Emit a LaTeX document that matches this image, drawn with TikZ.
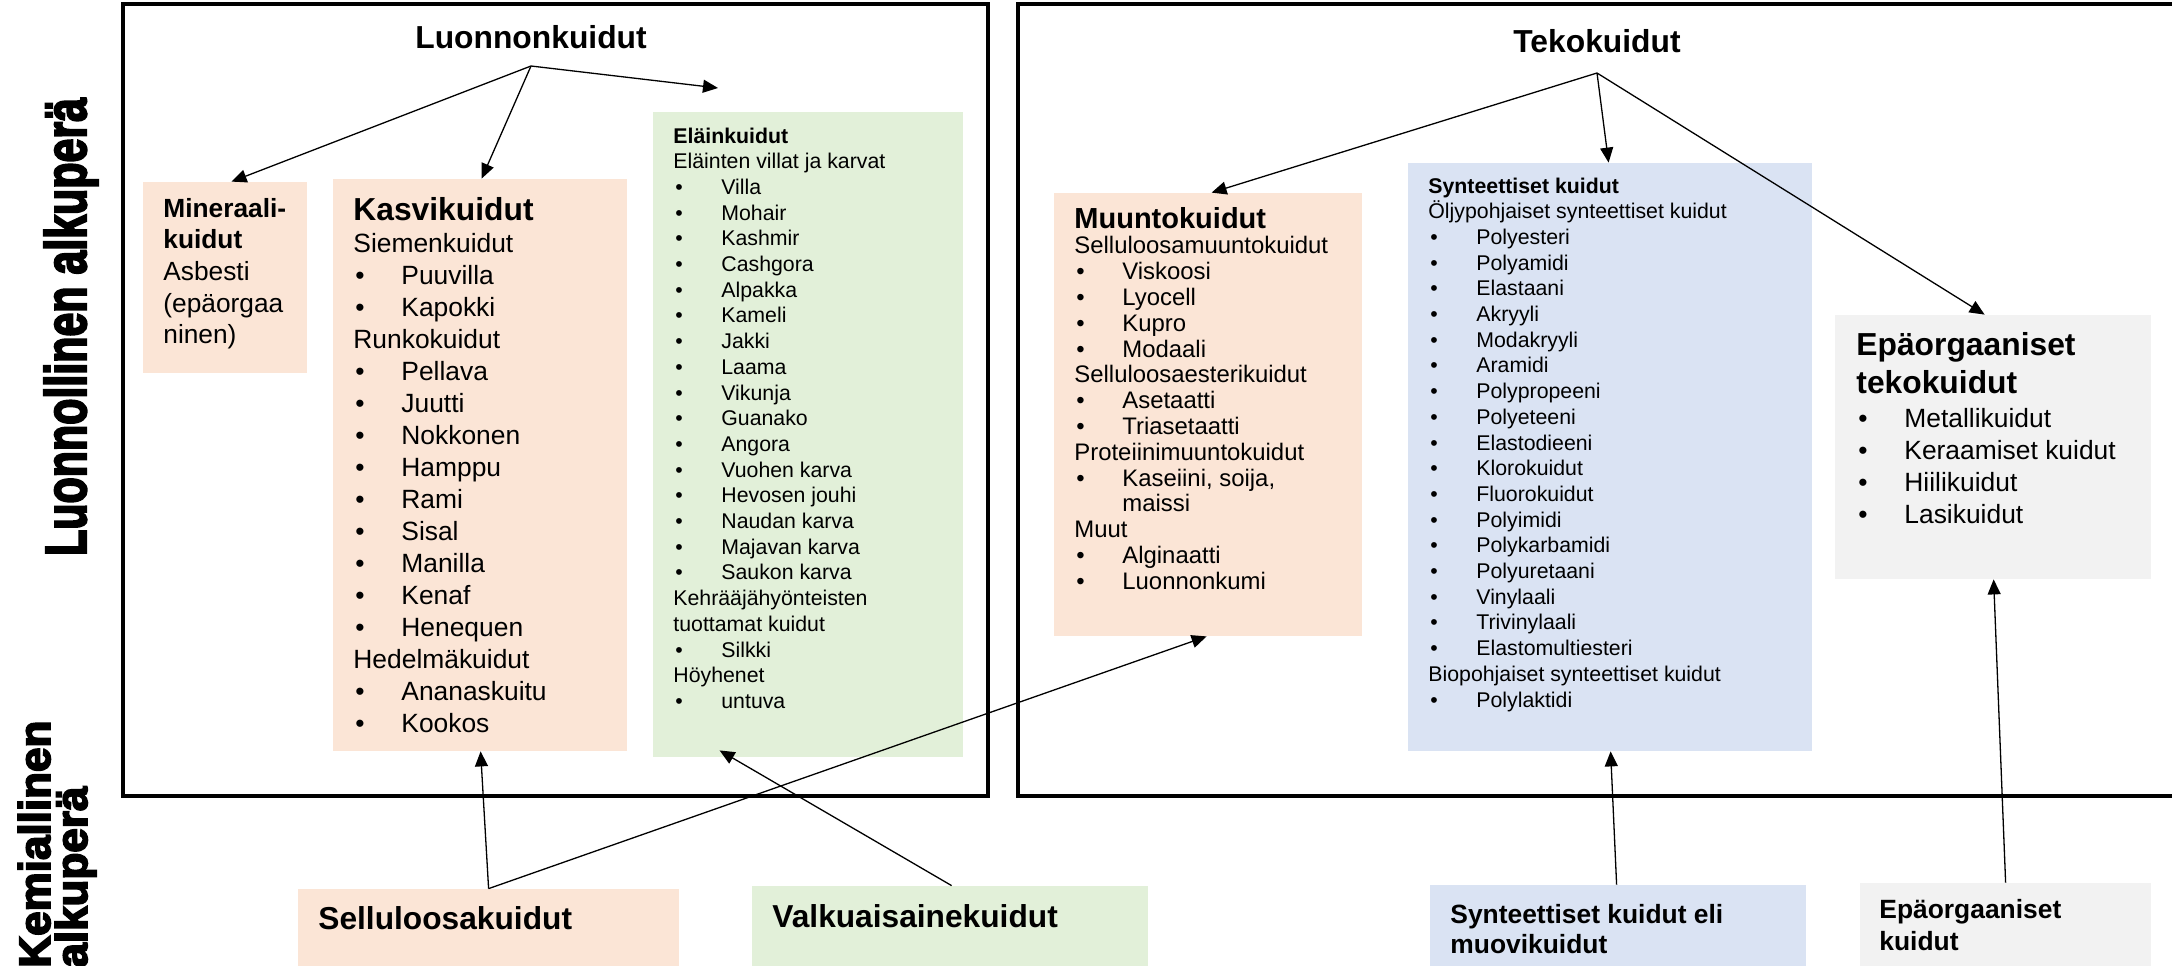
\documentclass[tikz,border=0pt]{standalone}
\usepackage{fontspec}
\usepackage{graphicx}
\setmainfont{Liberation Sans}
\newfontfamily\heavyfam{Liberation Sans}[BoldFeatures={FakeBold=4}]
\usetikzlibrary{arrows.meta,fit,calc}
\definecolor{peach}{HTML}{FBE5D6}
\definecolor{leaf}{HTML}{E2F0D9}
\definecolor{sky}{HTML}{DAE3F3}
\definecolor{ash}{HTML}{F2F2F2}
\newcommand\lne[1]{\hbox{#1}}
\newcommand\itm[1]{\hbox{\makebox[24pt][l]{\hspace{1pt}\textbullet}#1}}
\newcommand\vlist[2]{\vtop{\baselineskip=#1\lineskiplimit=-100pt\lineskip=0pt #2}}
\begin{document}
\begin{tikzpicture}[x=0.5pt,y=-0.5pt,
  outer/.style={draw, line width=1.6pt, inner sep=0pt},
  colbox/.style={inner sep=0pt, fill=#1},
  txt/.style={anchor=base west, inner sep=0pt},
  head/.style={anchor=base, inner sep=0pt, font=\bfseries\fontsize{15.9pt}{18pt}\selectfont},
  arr/.style={-{Triangle[length=7.5pt,width=6.5pt]}, line width=0.65pt}]
\useasboundingbox (0,0) rectangle (2172,965);
\clip (0,0) rectangle (2172,965);

% outer frames
\node[outer, fit={(123,4) (988,796)}] (natbox) {};
\node[outer, fit={(1018,4) (2220,796)}] (manbox) {};

% vertical labels
\node[rotate=90, anchor=base, inner sep=0pt, font=\heavyfam\bfseries\fontsize{29pt}{30pt}\selectfont] (lbl1) at (86,327) {\scalebox{0.74}[1]{Luonnollinen alkuperä}};
\node[rotate=90, anchor=base west, inner sep=0pt, font=\heavyfam\bfseries\fontsize{22pt}{18.5pt}\selectfont] (lbl2) at (50,968) {\vlist{18.5pt}{\lne{Kemiallinen}\lne{alkuperä}}};

% headings
\node[head] (luonn) at (531,48) {Luonnonkuidut};
\node[head] (teko) at (1597,52) {Tekokuidut};
\coordinate (lsrc) at (531,66);
\coordinate (tsrc) at (1597,73);
\coordinate (eltip) at (718,88);

% coloured boxes
\node[colbox=peach, fit={(143,182) (307,373)}] (mineral) {};
\node[colbox=peach, fit={(333,179) (627,751)}] (kasvi) {};
\node[colbox=leaf, fit={(653,112) (963,757)}] (elain) {};
\node[colbox=peach, fit={(1054,193) (1362,636)}] (muunto) {};
\node[colbox=sky, fit={(1408,163) (1812,751)}] (synt) {};
\node[colbox=ash, fit={(1835,315) (2151,579)}] (epa) {};
\node[colbox=peach, fit={(298,889) (679,975)}] (sellu) {};
\node[colbox=leaf, fit={(752,886) (1148,975)}] (valk) {};
\node[colbox=sky, fit={(1430,885) (1806,975)}] (syntb) {};
\node[colbox=ash, fit={(1860,883) (2151,975)}] (epab) {};

% texts
\node[txt, font=\fontsize{13.15pt}{15.85pt}\selectfont] (mintxt) at (163,217)
  {\vlist{15.85pt}{\lne{\bfseries Mineraali-}\lne{\bfseries kuidut}\lne{Asbesti}\lne{(epäorgaa}\lne{ninen)}}};

\node[txt, font=\fontsize{13.2pt}{16pt}\selectfont] (kasvitxt) at (353,220)
  {\vlist{16pt}{\lne{\fontsize{15.9pt}{16pt}\selectfont\bfseries Kasvikuidut}
   \lne{Siemenkuidut}\itm{Puuvilla}\itm{Kapokki}
   \lne{Runkokuidut}\itm{Pellava}\itm{Juutti}\itm{Nokkonen}\itm{Hamppu}\itm{Rami}\itm{Sisal}\itm{Manilla}\itm{Kenaf}\itm{Henequen}
   \lne{Hedelmäkuidut}\itm{Ananaskuitu}\itm{Kookos}}};

\node[txt, font=\fontsize{10.65pt}{12.85pt}\selectfont] (elaintxt) at (673,143)
  {\vlist{12.85pt}{\lne{\bfseries Eläinkuidut}\lne{Eläinten villat ja karvat}
   \itm{Villa}\itm{Mohair}\itm{Kashmir}\itm{Cashgora}\itm{Alpakka}\itm{Kameli}\itm{Jakki}\itm{Laama}\itm{Vikunja}\itm{Guanako}\itm{Angora}\itm{Vuohen karva}\itm{Hevosen jouhi}\itm{Naudan karva}\itm{Majavan karva}\itm{Saukon karva}
   \lne{Kehrääjähyönteisten}\lne{tuottamat kuidut}\itm{Silkki}
   \lne{Höyhenet}\itm{untuva}}};

\node[txt, font=\fontsize{11.95pt}{12.9pt}\selectfont] (muuntotxt) at (1074,228)
  {\vlist{12.9pt}{\lne{\fontsize{14.5pt}{12.9pt}\selectfont\bfseries Muuntokuidut}
   \lne{Selluloosamuuntokuidut}\itm{Viskoosi}\itm{Lyocell}\itm{Kupro}\itm{Modaali}
   \lne{Selluloosaesterikuidut}\itm{Asetaatti}\itm{Triasetaatti}
   \lne{Proteiinimuuntokuidut}\itm{Kaseiini, soija,}\lne{\hspace{24pt}maissi}
   \lne{Muut}\itm{Alginaatti}\itm{Luonnonkumi}}};

\node[txt, font=\fontsize{10.65pt}{12.85pt}\selectfont] (synttxt) at (1428,193)
  {\vlist{12.85pt}{\lne{\bfseries Synteettiset kuidut}\lne{Öljypohjaiset synteettiset kuidut}
   \itm{Polyesteri}\itm{Polyamidi}\itm{Elastaani}\itm{Akryyli}\itm{Modakryyli}\itm{Aramidi}\itm{Polypropeeni}\itm{Polyeteeni}\itm{Elastodieeni}\itm{Klorokuidut}\itm{Fluorokuidut}\itm{Polyimidi}\itm{Polykarbamidi}\itm{Polyuretaani}\itm{Vinylaali}\itm{Trivinylaali}\itm{Elastomultiesteri}
   \lne{Biopohjaiset synteettiset kuidut}\itm{Polylaktidi}}};

\node[txt, font=\fontsize{13.2pt}{16pt}\selectfont] (epatxt) at (1856,355)
  {\vlist{19pt}{\lne{\fontsize{15.9pt}{19pt}\selectfont\bfseries Epäorgaaniset}\lne{\fontsize{15.9pt}{19pt}\selectfont\bfseries tekokuidut}
   \baselineskip=17pt\itm{Metallikuidut}\baselineskip=16pt\itm{Keraamiset kuidut}\itm{Hiilikuidut}\itm{Lasikuidut}}};

\node[txt, font=\bfseries\fontsize{15.85pt}{18pt}\selectfont] (sellutxt) at (318,929) {Selluloosakuidut};
\node[txt, font=\bfseries\fontsize{15.85pt}{18pt}\selectfont] (valktxt) at (772,927) {Valkuaisainekuidut};
\node[txt, font=\bfseries\fontsize{13.2pt}{15pt}\selectfont] (syntbtxt) at (1450,923)
  {\vlist{15pt}{\lne{Synteettiset kuidut eli}\lne{muovikuidut}}};
\node[txt, font=\bfseries\fontsize{13.2pt}{16pt}\selectfont] (epabtxt) at (1879,918)
  {\vlist{16pt}{\lne{Epäorgaaniset}\lne{kuidut}}};

% connectors
\draw[arr] (lsrc) -- ($(mineral.north west)+(89,0)$);
\draw[arr] (lsrc) -- ($(kasvi.north west)+(149,0)$);
\draw[arr] (lsrc) -- (eltip);
\draw[arr] (tsrc) -- ($(muunto.north west)+(158,0)$);
\draw[arr] (tsrc) -- ($(synt.north west)+(201,0)$);
\draw[arr] (tsrc) -- ($(epa.north west)+(150,0)$);
\draw[arr] ($(sellu.north west)+(191,0)$) -- ($(kasvi.south west)+(148,0)$);
\draw[arr] ($(sellu.north west)+(191,0)$) -- ($(muunto.south west)+(153,0)$);
\draw[arr] ($(valk.north west)+(200,0)$) -- ($(elain.south west)+(67,-7)$);
\draw[arr] ($(syntb.north west)+(187,0)$) -- ($(synt.south west)+(203,0)$);
\draw[arr] ($(epab.north west)+(146,0)$) -- ($(epa.south west)+(159,0)$);
\end{tikzpicture}
\end{document}
